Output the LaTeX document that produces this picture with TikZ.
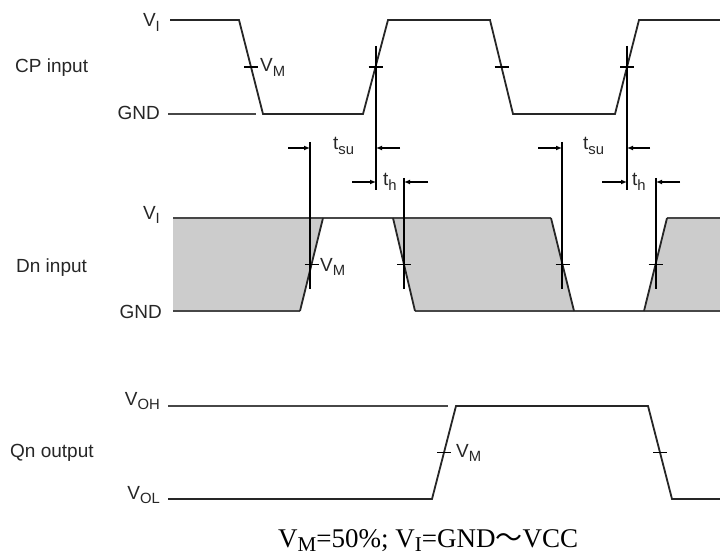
\documentclass[tikz,border=0pt]{standalone}
\usepackage{graphicx}
\usepackage{fontspec}
\setmainfont{Liberation Sans}
\newfontfamily\serifft{Liberation Serif}
\newfontfamily\cjk{Noto Sans CJK SC}
\usetikzlibrary{arrows.meta}
\newcommand\ssub[1]{\raisebox{-0.26em}{\scalebox{0.78}{#1}}}
\newcommand\csub[1]{\raisebox{-0.18em}{\scalebox{0.78}{#1}}}
\begin{document}
\begin{tikzpicture}[x=1pt,y=-1pt,
  wave/.style={line width=1.8pt, draw=black!85, line join=miter},
  level/.style={line width=1.8pt, draw=black!72},
  tickm/.style={line width=1.5pt, draw=black},
  marker/.style={line width=1.5pt, draw=black},
  dim/.style={line width=1.5pt, draw=black, -{Latex[length=6pt,width=5pt]}},
  lbl/.style={font=\fontsize{19}{19}\selectfont, text=black!85, inner sep=0pt},
  shade/.style={fill=black!20},
]
\useasboundingbox (0,0) rectangle (720,556);

% ---------- CP input ----------
\draw[wave] (170,20) -- (239,20) -- (263,114) -- (363,114) -- (388,20) -- (490,20)
  -- (513,114) -- (615,114) -- (639,20) -- (720,20);
\draw[level] (168,114) -- (256,114);
\foreach \x in {251,375.5,501.5,627} \draw[tickm] (\x-7,67) -- (\x+7,67);
\node[lbl, anchor=base west] (cpvm) at (260,72) {V\ssub{M}};
\node[lbl, anchor=base west] (cplab) at (15,73) {CP input};
\node[lbl, anchor=base east] (cpvi) at (160,27) {V\ssub{I}};
\node[lbl, anchor=base east] (cpgnd) at (160,120) {GND};

% ---------- Dn input ----------
\fill[shade] (173,218) -- (323,218) -- (300,311) -- (173,311) -- cycle;
\fill[shade] (393,218) -- (551,218) -- (574,311) -- (415,311) -- cycle;
\fill[shade] (667,218) -- (720,218) -- (720,311) -- (644,311) -- cycle;
\draw[level] (173,218) -- (551,218);
\draw[level] (667,218) -- (720,218);
\draw[level] (173,311) -- (300,311);
\draw[level] (415,311) -- (720,311);
\draw[wave] (300,311) -- (323,218);
\draw[wave] (393,218) -- (415,311);
\draw[wave] (551,218) -- (574,311);
\draw[wave] (644,311) -- (667,218);
\foreach \x in {311.5,404,562.5,655.5} \draw[tickm] (\x-7,264.5) -- (\x+7,264.5);
\node[lbl, anchor=base west] (dnvm) at (320,271) {V\ssub{M}};
\node[lbl, anchor=base west] (dnlab) at (16,272) {Dn input};
\node[lbl, anchor=base east] (dnvi) at (160,219) {V\ssub{I}};
\node[lbl, anchor=base east] (dngnd) at (162,318) {GND};

% ---------- timing markers ----------
\coordinate (c1t) at (376,46);  \coordinate (c1b) at (376,190);
\coordinate (c2t) at (627,46);  \coordinate (c2b) at (627,190);
\draw[marker] (c1t) -- (c1b);
\draw[marker] (c2t) -- (c2b);
\coordinate (s1t) at (310,142); \coordinate (s1b) at (310,289);
\coordinate (h1t) at (404,178); \coordinate (h1b) at (404,289);
\coordinate (s2t) at (562,142); \coordinate (s2b) at (562,289);
\coordinate (h2t) at (656,178); \coordinate (h2b) at (656,289);
\draw[marker] (s1t) -- (s1b);
\draw[marker] (h1t) -- (h1b);
\draw[marker] (s2t) -- (s2b);
\draw[marker] (h2t) -- (h2b);

\coordinate (a1) at (288,148); \coordinate (a1e) at (310,148);
\coordinate (a2) at (400,148); \coordinate (a2e) at (376,148);
\coordinate (a3) at (352,182); \coordinate (a3e) at (376,182);
\coordinate (a4) at (428,182); \coordinate (a4e) at (404,182);
\draw[dim] (a1) -- (a1e);
\draw[dim] (a2) -- (a2e);
\draw[dim] (a3) -- (a3e);
\draw[dim] (a4) -- (a4e);
\coordinate (b1) at (538,148); \coordinate (b1e) at (562,148);
\coordinate (b2) at (650,148); \coordinate (b2e) at (627,148);
\coordinate (b3) at (602,182); \coordinate (b3e) at (627,182);
\coordinate (b4) at (680,182); \coordinate (b4e) at (656,182);
\draw[dim] (b1) -- (b1e);
\draw[dim] (b2) -- (b2e);
\draw[dim] (b3) -- (b3e);
\draw[dim] (b4) -- (b4e);

\node[lbl, anchor=base west] (tsu1) at (333,150) {t\ssub{su}};
\node[lbl, anchor=base west] (th1) at (383,186) {t\ssub{h}};
\node[lbl, anchor=base west] (tsu2) at (583,150) {t\ssub{su}};
\node[lbl, anchor=base west] (th2) at (632,186) {t\ssub{h}};

% ---------- Qn output ----------
\draw[level] (168,406) -- (448,406);
\draw[wave] (168,499) -- (432,499) -- (456,406) -- (648,406) -- (672,499) -- (720,499);
\foreach \x in {444,660} \draw[tickm] (\x-7,452.5) -- (\x+7,452.5);
\node[lbl, anchor=base west] (qvm) at (456,457) {V\ssub{M}};
\node[lbl, anchor=base west] (qlab) at (10,457) {Qn output};
\node[lbl, anchor=base east] (qvoh) at (160,405) {V\ssub{OH}};
\node[lbl, anchor=base east] (qvol) at (160,499) {V\ssub{OL}};

% ---------- caption ----------
\node[anchor=base west, inner sep=0pt, font=\serifft\fontsize{27}{27}\selectfont] (cap) at (278,547)
  {V\csub{M}=50\%; V\csub{I}=GND{\cjk ～}VCC};
\end{tikzpicture}
\end{document}
